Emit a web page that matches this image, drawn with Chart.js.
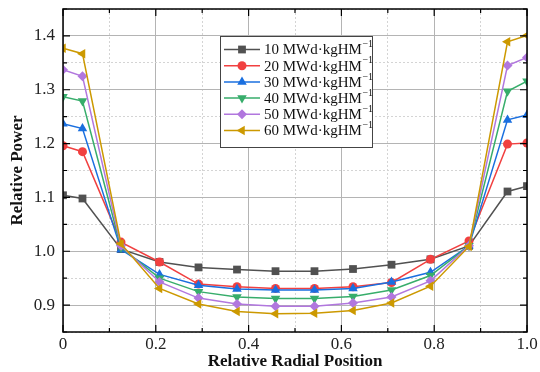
<!DOCTYPE html>
<html>
<head>
<meta charset="utf-8">
<script src="https://cdn.jsdelivr.net/npm/chart.js"></script>
<style>
  html, body { margin: 0; padding: 0; background: #fff; }
  #wrap { width: 540px; height: 372px; }
</style>
</head>
<body>
<div id="wrap"><canvas id="powerChart" width="540" height="372"></canvas></div>
<script>
// radial positions (relative) and relative power per burnup step
const positions = [0, 0.042, 0.125, 0.208, 0.292, 0.375, 0.458, 0.542, 0.625, 0.708, 0.792, 0.875, 0.958, 1.0];
const burnups = ["10", "20", "30", "40", "50", "60"];
const power10 = [1.104, 1.098, 1.004, 0.980, 0.970, 0.966, 0.963, 0.963, 0.967, 0.975, 0.985, 1.010, 1.111, 1.121];
const power20 = [1.196, 1.185, 1.017, 0.980, 0.939, 0.934, 0.931, 0.931, 0.934, 0.942, 0.985, 1.019, 1.199, 1.201];
const power30 = [1.237, 1.228, 1.003, 0.957, 0.937, 0.930, 0.928, 0.928, 0.931, 0.943, 0.961, 1.010, 1.244, 1.253];
const power40 = [1.287, 1.279, 1.007, 0.950, 0.925, 0.915, 0.912, 0.912, 0.916, 0.928, 0.955, 1.010, 1.297, 1.316];
const power50 = [1.337, 1.325, 1.010, 0.943, 0.913, 0.902, 0.898, 0.898, 0.904, 0.915, 0.945, 1.010, 1.345, 1.360];
const power60 = [1.377, 1.367, 1.014, 0.931, 0.902, 0.888, 0.884, 0.885, 0.890, 0.904, 0.935, 1.009, 1.389, 1.401];
const xTicks = [0, 0.2, 0.4, 0.6, 0.8, 1.0];
const yTicks = [0.9, 1.0, 1.1, 1.2, 1.3, 1.4];

const allSeries = [power10, power20, power30, power40, power50, power60];
const colors = ["#515151", "#F14040", "#1A6FDF", "#37AD6B", "#B177DE", "#CC9900"];
const markers = [
  { style: "rect", radius: 5.5, rotation: 0 },
  { style: "circle", radius: 4.5, rotation: 0 },
  { style: "triangle", radius: 5.5, rotation: 0 },
  { style: "triangle", radius: 5.5, rotation: 180 },
  { style: "rectRot", radius: 5, rotation: 0 },
  { style: "triangle", radius: 5.5, rotation: 270 },
];

const SERIF = "'Liberation Serif', 'Times New Roman', serif";

function isMajor(v, step) {
  const q = v / step;
  return Math.abs(q - Math.round(q)) < 1e-6;
}

// simple marker drawing for the custom legend
function drawMarker(ctx, m, x, y, color) {
  ctx.save();
  ctx.translate(x, y);
  ctx.rotate((m.rotation * Math.PI) / 180);
  ctx.fillStyle = color;
  ctx.beginPath();
  const r = m.radius;
  if (m.style === "rect") {
    const s = Math.SQRT1_2 * r;
    ctx.rect(-s, -s, 2 * s, 2 * s);
  } else if (m.style === "circle") {
    ctx.arc(0, 0, r, 0, Math.PI * 2);
  } else if (m.style === "rectRot") {
    ctx.moveTo(0, -r);
    ctx.lineTo(r, 0);
    ctx.lineTo(0, r);
    ctx.lineTo(-r, 0);
  } else {
    for (let k = 0; k < 3; k++) {
      const a = (k * 2 * Math.PI) / 3;
      ctx.lineTo(Math.sin(a) * r, -Math.cos(a) * r);
    }
  }
  ctx.closePath();
  ctx.fill();
  ctx.restore();
}

// frame with inward ticks on all four sides
const framePlugin = {
  id: "frame",
  afterDatasetsDraw(chart) {
    const { ctx, chartArea: a, scales } = chart;
    ctx.save();
    ctx.strokeStyle = "#000";
    ctx.lineWidth = 1.5;
    ctx.strokeRect(a.left, a.top, a.right - a.left, a.bottom - a.top);
    ctx.lineWidth = 1.2;
    ctx.beginPath();
    scales.x.ticks.forEach((t) => {
      const px = scales.x.getPixelForValue(t.value);
      const len = isMajor(t.value, 0.2) ? 7 : 4;
      ctx.moveTo(px, a.bottom);
      ctx.lineTo(px, a.bottom - len);
      ctx.moveTo(px, a.top);
      ctx.lineTo(px, a.top + len);
    });
    scales.y.ticks.forEach((t) => {
      const py = scales.y.getPixelForValue(t.value);
      const len = isMajor(t.value, 0.1) ? 7 : 4;
      ctx.moveTo(a.left, py);
      ctx.lineTo(a.left + len, py);
      ctx.moveTo(a.right, py);
      ctx.lineTo(a.right - len, py);
    });
    ctx.stroke();
    ctx.restore();
  },
};

// legend box drawn inside the plot
const legendPlugin = {
  id: "boxLegend",
  afterDraw(chart) {
    const ctx = chart.ctx;
    const box = { x: 220.5, y: 36.5, w: 152, h: 111 };
    ctx.save();
    ctx.fillStyle = "#fff";
    ctx.fillRect(box.x, box.y, box.w, box.h);
    ctx.strokeStyle = "#444";
    ctx.lineWidth = 1;
    ctx.strokeRect(box.x, box.y, box.w, box.h);
    burnups.forEach((b, i) => {
      const y = 49.5 + i * 16.2;
      ctx.strokeStyle = colors[i];
      ctx.lineWidth = 1.5;
      ctx.beginPath();
      ctx.moveTo(224, y);
      ctx.lineTo(260, y);
      ctx.stroke();
      drawMarker(ctx, markers[i], 242, y, colors[i]);
      ctx.fillStyle = "#111";
      ctx.textBaseline = "middle";
      ctx.textAlign = "left";
      ctx.font = "15px " + SERIF;
      const main = b + " MWd\u00B7kgHM";
      ctx.fillText(main, 264, y + 1);
      const w = ctx.measureText(main).width;
      ctx.font = "10px " + SERIF;
      ctx.fillText("\u22121", 264 + w + 0.5, y - 5);
    });
    ctx.restore();
  },
};

const datasets = allSeries.map((series, i) => ({
  label: burnups[i] + " MWd\u00B7kgHM\u207B\u00B9",
  data: positions.map((x, k) => ({ x: x, y: series[k] })),
  borderColor: colors[i],
  backgroundColor: colors[i],
  borderWidth: 1.5,
  pointStyle: markers[i].style,
  pointRadius: markers[i].radius,
  pointRotation: markers[i].rotation,
  pointBorderWidth: 0,
  tension: 0,
  order: 6 - i,
}));

new Chart(document.getElementById("powerChart"), {
  type: "line",
  data: { datasets: datasets },
  options: {
    responsive: false,
    animation: false,
    events: [],
    layout: { padding: { left: 0, right: 13, top: 9, bottom: 0 } },
    plugins: {
      legend: { display: false },
      tooltip: { enabled: false },
    },
    scales: {
      x: {
        type: "linear",
        min: 0,
        max: 1,
        afterFit: (s) => { s.height = 40; s.paddingLeft = 0; s.paddingRight = 0; },
        ticks: {
          stepSize: 0.1,
          autoSkip: false,
          maxRotation: 0,
          padding: 2,
          color: "#222",
          font: { family: SERIF, size: 17 },
          callback: (v) => {
            if (!xTicks.some((t) => Math.abs(t - v) < 1e-6)) return "";
            return v === 0 ? "0" : v.toFixed(1);
          },
        },
        grid: {
          drawTicks: false,
          lineWidth: 1,
          color: (c) => (c.tick && isMajor(c.tick.value, 0.2) ? "#b4b4b4" : "#d4d4d4"),
        },
        border: {
          display: false,
          dash: (c) => (c.tick && !isMajor(c.tick.value, 0.2) ? [2, 2] : []),
        },
        title: {
          display: true,
          text: "Relative Radial Position",
          color: "#111",
          font: { family: SERIF, size: 17, weight: "bold" },
          padding: { top: 0, bottom: 0 },
        },
      },
      y: {
        min: 0.85,
        max: 1.45,
        afterFit: (s) => { s.width = 63; s.paddingTop = 0; s.paddingBottom = 0; },
        ticks: {
          stepSize: 0.05,
          autoSkip: false,
          padding: 8,
          color: "#222",
          font: { family: SERIF, size: 17 },
          callback: (v) => (yTicks.some((t) => Math.abs(t - v) < 1e-6) ? v.toFixed(1) : ""),
        },
        grid: {
          drawTicks: false,
          lineWidth: 1,
          color: (c) => (c.tick && isMajor(c.tick.value, 0.1) ? "#b4b4b4" : "#d4d4d4"),
        },
        border: {
          display: false,
          dash: (c) => (c.tick && !isMajor(c.tick.value, 0.1) ? [2, 2] : []),
        },
        title: {
          display: true,
          text: "Relative Power",
          color: "#111",
          font: { family: SERIF, size: 17, weight: "bold" },
          padding: { top: 7, bottom: 0 },
        },
      },
    },
  },
  plugins: [framePlugin, legendPlugin],
});
</script>
</body>
</html>
